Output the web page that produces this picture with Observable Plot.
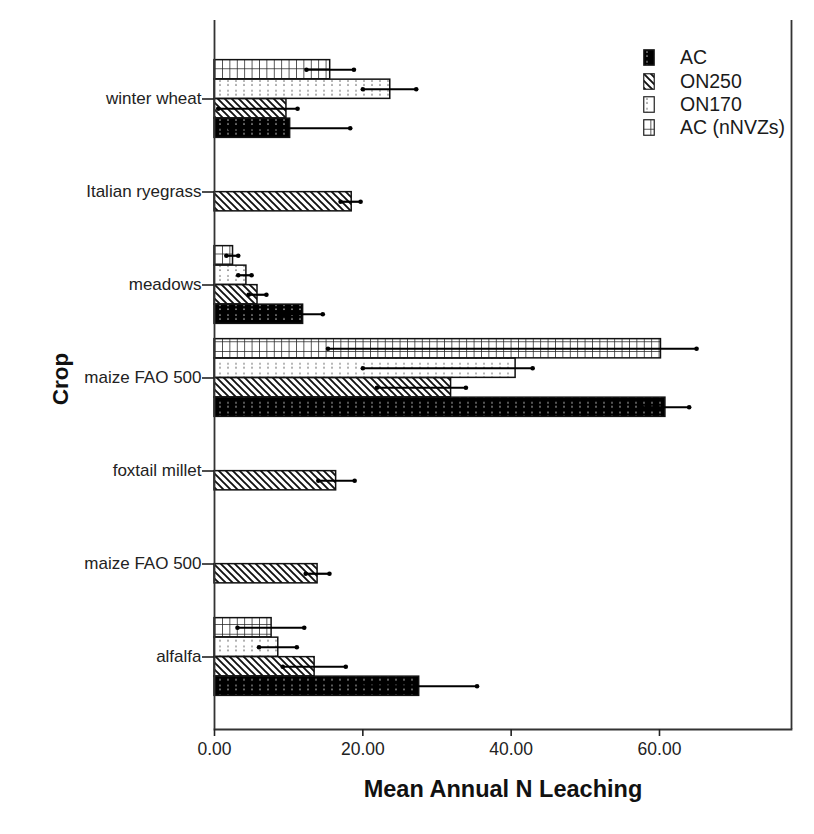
<!DOCTYPE html>
<html>
<head>
<meta charset="utf-8">
<script src="https://cdn.jsdelivr.net/npm/d3@7"></script>
<script src="https://cdn.jsdelivr.net/npm/@observablehq/plot@0.6"></script>
<style>
  html, body { margin: 0; padding: 0; background: #fff; }
  #wrap { position: relative; width: 814px; height: 834px; font-family: "Liberation Sans", Arial, sans-serif; }
  #legend { position: absolute; left: 643px; top: 46px; font-size: 19.5px; color: #1a1a1a; }
  #legend .row { display: flex; align-items: center; height: 23.4px; }
  #legend svg { margin-right: 25px; }
  .title { position: absolute; font-weight: bold; color: #111; white-space: nowrap; }
  #xtitle { left: 0; width: 1006px; text-align: center; top: 776px; font-size: 23.5px; }
  #ytitle { left: 61px; top: 379px; font-size: 22.5px; transform: translate(-50%, -50%) rotate(-90deg); }
</style>
</head>
<body>
<div id="wrap"></div>
<script>
// ---- data ----
const categories = ["winter wheat", "Italian ryegrass", "meadows", "maize FAO 500", "foxtail millet", "maize FAO 500", "alfalfa"];
const legendOrder = ["AC", "ON250", "ON170", "AC (nNVZs)"];
const slotOrder = ["AC (nNVZs)", "ON170", "ON250", "AC"]; // top to bottom within a crop

const acMean    = [10.2, null, 11.95, 60.8, null, null, 27.6];
const acLo      = [2.1,  null, 9.3,   57.6, null, null, 19.8];
const acHi      = [18.3, null, 14.6,  64.0, null, null, 35.4];

const on250Mean = [9.7,  18.5, 5.8, 31.9, 16.4, 13.9, 13.5];
const on250Lo   = [0.5,  17.0, 4.6, 21.9, 14.0, 12.3, 9.2];
const on250Hi   = [11.2, 19.7, 7.0, 33.9, 18.9, 15.5, 17.7];

const on170Mean = [23.7, null, 4.3, 40.6, null, null, 8.6];
const on170Lo   = [20.0, null, 3.2, 20.0, null, null, 6.0];
const on170Hi   = [27.2, null, 5.0, 42.9, null, null, 11.1];

const nnvzMean  = [15.6, null, 2.5, 60.2, null, null, 7.7];
const nnvzLo    = [12.4, null, 1.6, 15.3, null, null, 3.1];
const nnvzHi    = [18.8, null, 3.2, 65.0, null, null, 12.1];

const xTicks = [0, 20, 40, 60];
const xMax = 77.8;
const xTitle = "Mean Annual N Leaching";
const yTitle = "Crop";

// ---- build table ----
const seriesData = {
  "AC": [acMean, acLo, acHi],
  "ON250": [on250Mean, on250Lo, on250Hi],
  "ON170": [on170Mean, on170Lo, on170Hi],
  "AC (nNVZs)": [nnvzMean, nnvzLo, nnvzHi]
};
const rows = [];
for (const s of slotOrder) {
  const [m, lo, hi] = seriesData[s];
  m.forEach((v, i) => { if (v != null) rows.push({crop: i, series: s, mean: v, lo: lo[i], hi: hi[i]}); });
}
const patternUrl = {"AC": "url(#pAC)", "ON250": "url(#pON250)", "ON170": "url(#pON170)", "AC (nNVZs)": "url(#pNNVZ)"};

// ---- layout ----
const W = 814, H = 834, mT = 20, mB = 105, mL = 214, mR = 23;
const padOuter = 0.3;
const step = (H - mT - mB) / (categories.length + 2 * padOuter);
const barH = 19.5;
const groupTop = (step - 4 * barH) / 2;

const marks = [];
slotOrder.forEach((s, k) => {
  const data = rows.filter(d => d.series === s);
  const insetTop = groupTop + k * barH;
  const insetBottom = step - insetTop - barH;
  const off = -step / 2 + insetTop + barH / 2;
  marks.push(Plot.barX(data, {x: "mean", y: "crop", fill: patternUrl[s], stroke: "#111", strokeWidth: 1.5, insetTop, insetBottom}));
  marks.push(Plot.ruleY(data, {y: "crop", x1: "lo", x2: "hi", dy: off, stroke: "#000", strokeWidth: 2.2}));
  marks.push(Plot.dot(data, {x: "hi", y: "crop", dy: off, r: 2.3, fill: "#000", stroke: null}));
  marks.push(Plot.dot(data, {x: "lo", y: "crop", dy: off, r: 2.3, fill: "#000", stroke: null}));
});

const chart = Plot.plot({
  width: W, height: H,
  marginTop: mT, marginBottom: mB, marginLeft: mL, marginRight: mR,
  style: {fontFamily: "'Liberation Sans', Arial, sans-serif", color: "#222", background: "#fff"},
  x: {domain: [0, xMax]},
  y: {type: "band", domain: d3.range(categories.length), paddingInner: 0, paddingOuter: padOuter, align: 0.56},
  marks: [
    ...marks,
    Plot.ruleX([0, xMax], {stroke: "#333", strokeWidth: 1.8}),
    Plot.frame({anchor: "bottom", stroke: "#333", strokeWidth: 1.8}),
    Plot.axisX({ticks: xTicks, tickFormat: d => d.toFixed(2), tickSize: 7, tickPadding: 6, fontSize: 17.5, label: null, strokeWidth: 1.6}),
    Plot.axisY({tickFormat: i => categories[i], tickSize: 12, tickPadding: 1, fontSize: 17, label: null, strokeWidth: 1.6})
  ]
});

const defs = `
<defs>
  <pattern id="pAC" patternUnits="userSpaceOnUse" width="8" height="9.75">
    <rect width="8" height="9.75" fill="#000"/>
    <circle cx="4" cy="3" r="0.9" fill="#999"/>
    <circle cx="4" cy="7" r="0.9" fill="#999"/>
  </pattern>
  <pattern id="pON250" patternUnits="userSpaceOnUse" width="7" height="7">
    <rect width="7" height="7" fill="#fff"/>
    <path d="M-1,-1 L8,8 M-1,6 L1,8 M6,-1 L8,1" stroke="#111" stroke-width="1.9"/>
  </pattern>
  <pattern id="pON170" patternUnits="userSpaceOnUse" width="8" height="9.75">
    <rect width="8" height="9.75" fill="#fff"/>
    <circle cx="4" cy="3" r="0.8" fill="#666"/>
    <circle cx="4" cy="7" r="0.8" fill="#666"/>
  </pattern>
  <pattern id="pNNVZ" patternUnits="userSpaceOnUse" width="7.4" height="9.75">
    <rect width="7.4" height="9.75" fill="#fff"/>
    <path d="M0,0 V9.75 M0,0 H7.4" stroke="#222" stroke-width="1.5"/>
  </pattern>
</defs>`;
chart.insertAdjacentHTML("afterbegin", defs);
const wrap = document.getElementById("wrap");
wrap.appendChild(chart);

// axis titles
const xt = document.createElement("div"); xt.id = "xtitle"; xt.className = "title"; xt.textContent = xTitle; wrap.appendChild(xt);
const yt = document.createElement("div"); yt.id = "ytitle"; yt.className = "title"; yt.textContent = yTitle; wrap.appendChild(yt);

// legend (inside plot, top-right)
const legend = document.createElement("div");
legend.id = "legend";
for (const s of legendOrder) {
  const row = document.createElement("div");
  row.className = "row";
  row.innerHTML = `<svg width="12" height="17"><rect x="0.75" y="0.75" width="10.5" height="15.5" fill="${patternUrl[s]}" stroke="#222" stroke-width="1.2"/></svg><span>${s}</span>`;
  legend.appendChild(row);
}
wrap.appendChild(legend);
</script>
</body>
</html>
